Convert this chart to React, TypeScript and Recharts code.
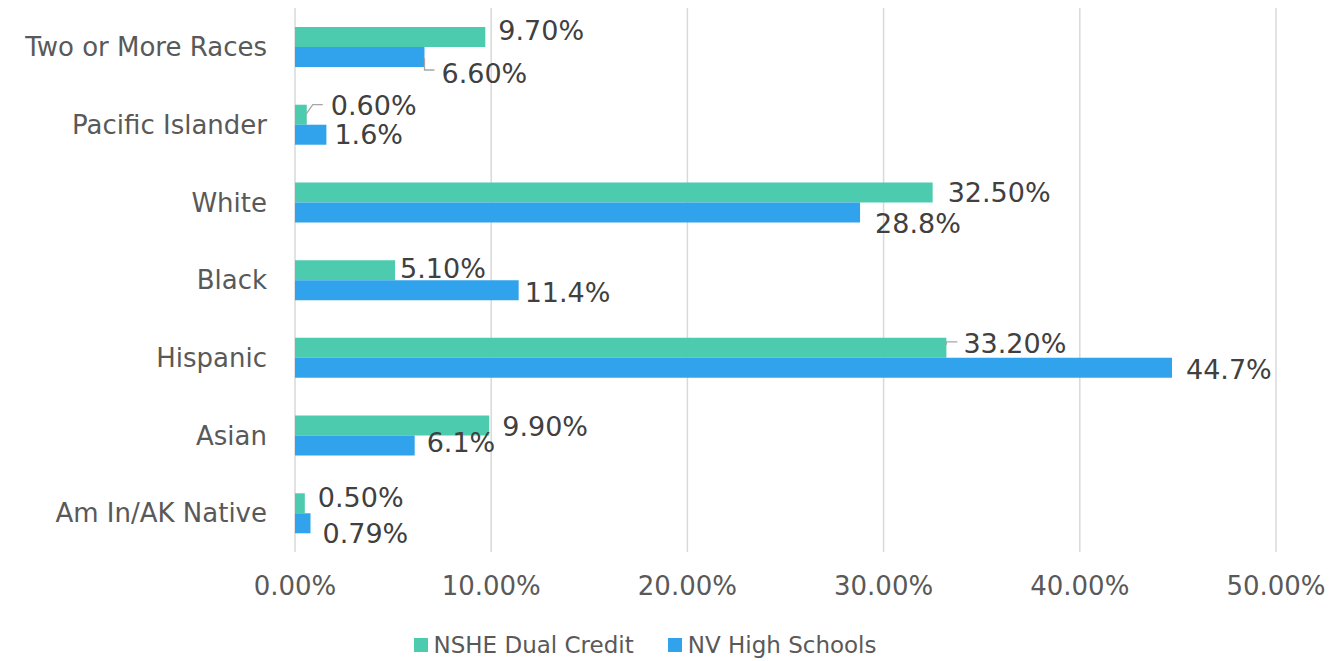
import React from "react"
import { BarChart, Bar, XAxis, YAxis, CartesianGrid, Legend, LabelList } from "recharts"

const categories = ["Two or More Races", "Pacific Islander", "White", "Black", "Hispanic", "Asian", "Am In/AK Native"]
const nsheDualCredit = [9.7, 0.6, 32.5, 5.1, 33.2, 9.9, 0.5]
const nvHighSchools = [6.6, 1.6, 28.8, 11.4, 44.7, 6.1, 0.79]
const nsheLabels = ["9.70%", "0.60%", "32.50%", "5.10%", "33.20%", "9.90%", "0.50%"]
const nvLabels = ["6.60%", "1.6%", "28.8%", "11.4%", "44.7%", "6.1%", "0.79%"]
const xTicks = [0, 10, 20, 30, 40, 50]

const GREEN = "#4dcbae"
const BLUE = "#30a3ec"
const FONT = "'DejaVu Sans', sans-serif"

// label nudges (Excel labels were dragged by hand in the original)
const nsheNudge = [[13, -7], [24, -9], [15, 0], [5, -2], [17, -4], [13, 1], [13, -6]]
const nvNudge = [[17, 16], [8, 0], [15, 11], [6, 2], [14, 2], [12, -3], [12, 10]]
const nsheLeaders: Record<number, number[][]> = { 1: [[-1, 0], [6, -10], [16, -10]], 4: [[0, -3], [0, -6], [11, -6]] }
const nvLeaders: Record<number, number[][]> = { 0: [[0, 1], [0, 13], [10, 13]] }

const data = categories.map((c, i) => ({ category: c, nshe: nsheDualCredit[i], nv: nvHighSchools[i] }))

function makeLabel(labels: string[], nudge: number[][], leaders: Record<number, number[][]>) {
  return (props: any) => {
    const { x, y, width, height, index } = props
    const endX = x + width
    const cy = y + height / 2
    const [dx, dy] = nudge[index]
    const leader = leaders[index]
    return (
      <g>
        {leader && (
          <polyline
            points={leader.map(([a, b]) => `${endX + a},${cy + b}`).join(" ")}
            fill="none"
            stroke="#a6a6a6"
            strokeWidth={1.3}
          />
        )}
        <text x={endX + dx} y={cy + dy} dominantBaseline="central" fill="#404040" fontSize={27} fontFamily={FONT}>
          {labels[index]}
        </text>
      </g>
    )
  }
}

function LegendContent() {
  const items = [
    { name: "NSHE Dual Credit", color: GREEN },
    { name: "NV High Schools", color: BLUE },
  ]
  return (
    <div style={{ display: "flex", justifyContent: "center", gap: 34, height: 32, paddingLeft: 14, alignItems: "center", fontFamily: FONT, fontSize: 23, color: "#595959" }}>
      {items.map((it) => (
        <div key={it.name} style={{ display: "flex", alignItems: "center", gap: 6 }}>
          <span style={{ width: 14, height: 14, background: it.color, display: "inline-block" }} />
          <span>{it.name}</span>
        </div>
      ))}
    </div>
  )
}

export default function App() {
  return (
    <div style={{ position: "absolute", left: 0, top: 0, background: "#fff" }}>
      <BarChart
        width={1336}
        height={661}
        data={data}
        layout="vertical"
        margin={{ top: 8, right: 60, left: 0, bottom: 0 }}
        barGap={0}
      >
        <CartesianGrid horizontal={false} stroke="#d9d9d9" strokeWidth={1.5} />
        <XAxis
          type="number"
          domain={[0, 50]}
          ticks={xTicks}
          tickFormatter={(v: number) => `${v.toFixed(2)}%`}
          axisLine={false}
          tickLine={false}
          tickSize={0}
          tickMargin={25}
          height={77}
          tick={{ fill: "#595959", fontSize: 26, fontFamily: FONT }}
        />
        <YAxis
          type="category"
          dataKey="category"
          width={295}
          axisLine={false}
          tickLine={false}
          tickSize={0}
          tickMargin={28}
          tick={{ fill: "#595959", fontSize: 26, fontFamily: FONT }}
        />
        <Legend verticalAlign="bottom" content={<LegendContent />} />
        <Bar dataKey="nshe" name="NSHE Dual Credit" fill={GREEN} barSize={20} isAnimationActive={false}>
          <LabelList dataKey="nshe" content={makeLabel(nsheLabels, nsheNudge, nsheLeaders)} />
        </Bar>
        <Bar dataKey="nv" name="NV High Schools" fill={BLUE} barSize={20} isAnimationActive={false}>
          <LabelList dataKey="nv" content={makeLabel(nvLabels, nvNudge, nvLeaders)} />
        </Bar>
      </BarChart>
    </div>
  )
}
